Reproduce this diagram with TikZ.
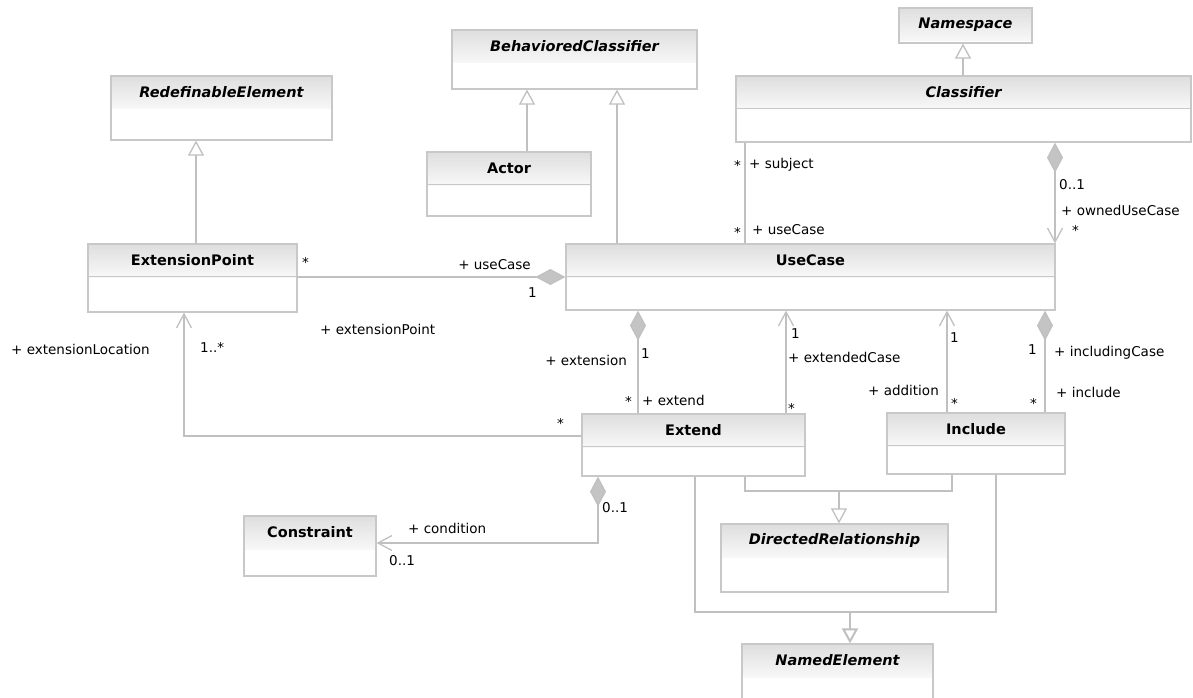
\documentclass[tikz,border=0pt]{standalone}
\usepackage{fontspec}
\setmainfont{DejaVu Sans}
\usetikzlibrary{arrows.meta,fit,calc}
\definecolor{lineg}{HTML}{C0C0C0}
\definecolor{boxg}{HTML}{C8C8C8}
\definecolor{hdrtop}{HTML}{DEDEDE}
\definecolor{hdrbot}{HTML}{F8F8F8}
\definecolor{dia}{HTML}{C4C4C4}
\tikzset{
  box/.style={draw=boxg, line width=1.2pt, inner sep=0pt},
  conn/.style={draw=lineg, line width=1.3pt},
  gen/.style={conn, -{Triangle[open,length=15pt,width=16pt,fill=white]}},
  nav/.style={conn, -{Straight Barb[length=14pt,width=15pt]}},
  comp/.style={conn, {Diamond[length=30pt,width=16pt,fill=dia]}-},
  compnav/.style={conn, {Diamond[length=30pt,width=16pt,fill=dia]}-{Straight Barb[length=14pt,width=15pt]}},
  lbl/.style={font=\fontsize{13.5}{16}\selectfont, inner sep=0pt, text=black},
  cname/.style={font=\fontsize{14.5}{17}\selectfont\bfseries, inner sep=0pt, text=black},
  aname/.style={font=\fontsize{14.5}{17}\selectfont\bfseries\itshape, inner sep=0pt, text=black}
}
% #1 name, #2 x1, #3 y1, #4 x2, #5 y2, #6 text, #7 divider (1/0), #8 text style
\newcommand\umlbox[8]{%
  \shade[top color=hdrtop, bottom color=hdrbot] (#2,#3) rectangle (#4,{#3+33});
  \node[box, fit={(#2,#3) (#4,#5)}] (#1) {};
  \ifnum#7=1 \draw[box] ([yshift=-33pt]#1.north west) -- ([yshift=-33pt]#1.north east);\fi
  \node[#8] (#1-t) at ([yshift=-17pt]#1.north) {#6};
}
\begin{document}
\begin{tikzpicture}[x=1pt,y=-1pt]
\useasboundingbox (0,0) rectangle (1193,698);
\fill[white] (0,0) rectangle (1193,698);

\umlbox{re}{111}{76}{332}{140}{RedefinableElement}{0}{aname}
\umlbox{bc}{452}{30}{697}{89}{BehavioredClassifier}{0}{aname}
\umlbox{ns}{899}{8}{1032}{43}{Namespace}{0}{aname}
\umlbox{cl}{736}{76}{1191}{142}{Classifier}{1}{aname}
\umlbox{ac}{427}{152}{591}{216}{Actor}{1}{cname}
\umlbox{ep}{88}{244}{297}{312}{ExtensionPoint}{1}{cname}
\umlbox{uc}{566}{244}{1055}{310}{UseCase}{1}{cname}
\umlbox{ext}{582}{414}{805}{476}{Extend}{1}{cname}
\umlbox{inc}{887}{413}{1065}{474}{Include}{1}{cname}
\umlbox{con}{244}{516}{376}{576}{Constraint}{0}{cname}
\umlbox{dr}{721}{524}{948}{592}{DirectedRelationship}{0}{aname}
\umlbox{ne}{742}{644}{933}{706}{NamedElement}{0}{aname}

% generalizations
\draw[gen] (ep.north -| 196,0) -- (re.south -| 196,0);
\draw[gen] (ac.north -| 527,0) -- (bc.south -| 527,0);
\draw[gen] (uc.north -| 617,0) -- (bc.south -| 617,0);
\draw[gen] (cl.north -| 963,0) -- (ns.south -| 963,0);

% subject / useCase
\draw[conn] (cl.south -| 745,0) -- (uc.north -| 745,0);
% ownedUseCase
\draw[compnav] (cl.south -| 1055,0) -- (uc.north -| 1055,0);
% extensionPoint
\draw[comp] (uc.west |- 0,277) -- (ep.east |- 0,277);
% extensionLocation
\coordinate (elc) at (184,436);
\draw[nav] (ext.west |- elc) -- (elc) -- (ep.south -| elc);
% extension / extend
\draw[comp] (uc.south -| 638,0) -- (ext.north -| 638,0);
% extendedCase
\draw[nav] (ext.north -| 786,0) -- (uc.south -| 786,0);
% addition
\draw[nav] (inc.north -| 947,0) -- (uc.south -| 947,0);
% includingCase / include
\draw[comp] (uc.south -| 1045,0) -- (inc.north -| 1045,0);
% condition
\coordinate (cnd) at (598,543);
\draw[compnav] (ext.south -| cnd) -- (cnd) -- (con.east |- cnd);

% to DirectedRelationship
\coordinate (drj) at (839,491);
\draw[conn] (ext.south -| 745,0) -- (745,491) -- (952,491) -- (inc.south -| 952,0);
\draw[gen] (drj) -- (dr.north -| drj);
% to NamedElement
\coordinate (nej) at (850,612);
\draw[conn] (ext.south -| 695,0) -- (695,612) -- (996,612) -- (inc.south -| 996,0);
\draw[gen, line width=2pt] (nej) -- (ne.north -| nej);

% labels
\node[lbl, anchor=east] (l1) at (741,165) {*};
\node[lbl, anchor=west] (l2) at (749,165) {+ subject};
\node[lbl, anchor=east] (l3) at (741,232) {*};
\node[lbl, anchor=west] (l4) at (752,230) {+ useCase};
\node[lbl, anchor=west] (l5) at (1059,185) {0..1};
\node[lbl, anchor=west] (l6) at (1061,210) {+ ownedUseCase};
\node[lbl, anchor=west] (l7) at (1072,230) {*};
\node[lbl, anchor=west] (l8) at (302,262) {*};
\node[lbl, anchor=east] (l9) at (531,265) {+ useCase};
\node[lbl, anchor=east] (l10) at (537,293) {1};
\node[lbl, anchor=west] (l11) at (320,329) {+ extensionPoint};
\node[lbl, anchor=west] (l12) at (11,349) {+ extensionLocation};
\node[lbl, anchor=west] (l13) at (200,347) {1..*};
\node[lbl, anchor=east] (l14) at (564,423) {*};
\node[lbl, anchor=east] (l15) at (627,360) {+ extension};
\node[lbl, anchor=west] (l16) at (641,354) {1};
\node[lbl, anchor=east] (l17) at (632,401) {*};
\node[lbl, anchor=west] (l18) at (642,400) {+ extend};
\node[lbl, anchor=west] (l19) at (791,334) {1};
\node[lbl, anchor=west] (l20) at (788,357) {+ extendedCase};
\node[lbl, anchor=west] (l21) at (788,408) {*};
\node[lbl, anchor=west] (l22) at (950,338) {1};
\node[lbl, anchor=east] (l23) at (939,390) {+ addition};
\node[lbl, anchor=west] (l24) at (951,403) {*};
\node[lbl, anchor=east] (l25) at (1037,350) {1};
\node[lbl, anchor=west] (l26) at (1054,353) {+ includingCase};
\node[lbl, anchor=west] (l27) at (1056,392) {+ include};
\node[lbl, anchor=east] (l28) at (1037,403) {*};
\node[lbl, anchor=west] (l29) at (408,528) {+ condition};
\node[lbl, anchor=west] (l30) at (389,561) {0..1};
\node[lbl, anchor=west] (l31) at (602,508) {0..1};
\end{tikzpicture}
\end{document}
